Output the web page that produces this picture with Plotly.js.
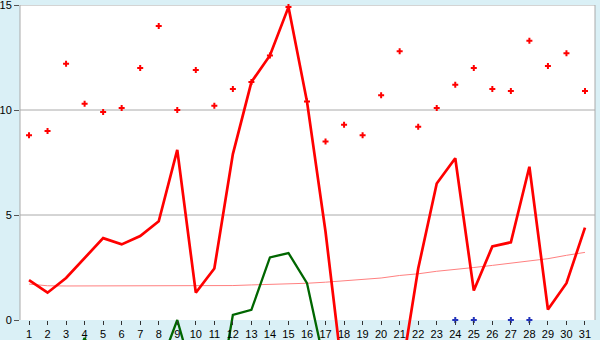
<!DOCTYPE html>
<html>
<head>
<meta charset="utf-8">
<script src="https://cdn.plot.ly/plotly-3.0.1.min.js"></script>
<style>html,body{margin:0;padding:0;background:#DAF0F6;}#chart{width:600px;height:340px;}</style>
</head>
<body>
<div id="chart"></div>
<script>
const days = [1,2,3,4,5,6,7,8,9,10,11,12,13,14,15,16,17,18,19,20,21,22,23,24,25,26,27,28,29,30,31];
const dayLabels = ["1","2","3","4","5","6","7","8","9","10","11","12","13","14","15","16","17","18","19","20","21","22","23","24","25","26","27","28","29","30","31"];
const yTickVals = [0,5,10,15];
const yTickText = ["0","5","10","15"];

const redPoints = [8.8,9.0,12.2,10.3,9.9,10.1,12.0,14.0,10.0,11.9,10.2,11.0,11.33,12.6,14.9,10.4,8.5,9.3,8.8,10.7,12.8,9.2,10.1,11.2,12.0,11.0,10.9,13.3,12.1,12.7,10.9];
const redLine = [1.9,1.3,2.0,2.95,3.9,3.6,4.0,4.7,8.1,1.3,2.45,7.9,11.33,12.6,14.9,10.4,4.2,-3.2,-4.0,-3.8,-3.05,2.45,6.5,7.7,1.4,3.5,3.7,7.3,0.5,1.75,4.4];
const greenLine = [-2.5,-3.5,-3.0,-0.85,-3.0,-4.0,-3.0,-2.35,0.0,-3.1,-4.9,0.24,0.48,2.98,3.19,1.75,-2.3,null,null,null,null,null,null,null,null,null,null,null,null,null,null];
const pinkLine = [1.71,1.63,1.62,1.62,1.62,1.62,1.62,1.62,1.62,1.62,1.62,1.64,1.67,1.69,1.71,1.75,1.8,1.87,1.94,2.0,2.12,2.2,2.32,2.4,2.5,2.6,2.7,2.79,2.92,3.08,3.22];
const blueDays = [24,25,27,28];
const blueVals = [0,0,0,0];

const traces = [
  {x: days, y: pinkLine, mode: 'lines', line: {color: '#FF8080', width: 1}, hoverinfo: 'skip'},
  {x: days, y: greenLine, mode: 'lines', line: {color: '#006600', width: 2.3}, hoverinfo: 'skip'},
  {x: days, y: redLine, mode: 'lines', line: {color: '#FF0000', width: 2.7}, hoverinfo: 'skip'},
  {x: days, y: redPoints, mode: 'markers', marker: {symbol: 'cross', size: 5, color: '#FF0000', line: {width: 0}}, hoverinfo: 'skip', cliponaxis: false},
  {x: blueDays, y: blueVals, mode: 'markers', marker: {symbol: 'cross', size: 5, color: '#2233BB', line: {width: 0}}, hoverinfo: 'skip', cliponaxis: false}
];

const gridCol = '#AAAAAA';
const layout = {
  width: 600, height: 340,
  margin: {l: 20, r: 5, t: 5, b: 0, pad: 0},
  paper_bgcolor: '#DAF0F6',
  plot_bgcolor: '#DAF0F6',
  showlegend: false,
  font: {family: 'Liberation Sans, Arial, sans-serif', size: 11, color: '#000'},
  xaxis: {
    range: [0.514, 31.54], anchor: 'free', position: 20/335,
    tickmode: 'array', tickvals: days, ticktext: dayLabels,
    ticks: 'outside', ticklen: 4, tickcolor: '#333', tickwidth: 1,
    showgrid: false, zeroline: false, showline: false,
    ticklabeloverflow: 'allow',
    tickfont: {family: 'Liberation Sans, Arial, sans-serif', size: 11, color: '#000'}
  },
  yaxis: {
    range: [-20/21, 15.0005],
    tickmode: 'array', tickvals: yTickVals, ticktext: yTickText,
    ticks: 'outside', ticklen: 5, tickcolor: '#555', tickwidth: 1,
    showgrid: false, zeroline: false, showline: false,
    ticklabeloverflow: 'allow',
    tickfont: {family: 'Liberation Sans, Arial, sans-serif', size: 11, color: '#000'}
  },
  shapes: [
    {type: 'rect', xref: 'paper', yref: 'y', x0: 0, x1: 1, y0: 0, y1: 15, fillcolor: '#FFFFFF', line: {width: 0}, layer: 'below'},
    {type: 'line', xref: 'paper', yref: 'y', x0: 0, x1: 1, y0: 5, y1: 5, line: {color: gridCol, width: 1}, layer: 'below'},
    {type: 'line', xref: 'paper', yref: 'y', x0: 0, x1: 1, y0: 10, y1: 10, line: {color: gridCol, width: 1}, layer: 'below'},
    {type: 'line', xref: 'paper', yref: 'y', x0: 0, x1: 1, y0: 15, y1: 15, line: {color: gridCol, width: 1}, layer: 'below'},
    {type: 'line', xref: 'paper', yref: 'y', x0: 0, x1: 0, y0: 0, y1: 15, line: {color: gridCol, width: 1}, layer: 'below'},
    {type: 'line', xref: 'paper', yref: 'y', x0: 1, x1: 1, y0: 0, y1: 15, line: {color: gridCol, width: 1}, layer: 'below'}
  ]
};

Plotly.newPlot('chart', traces, layout, {staticPlot: true, displayModeBar: false});
</script>
</body>
</html>
